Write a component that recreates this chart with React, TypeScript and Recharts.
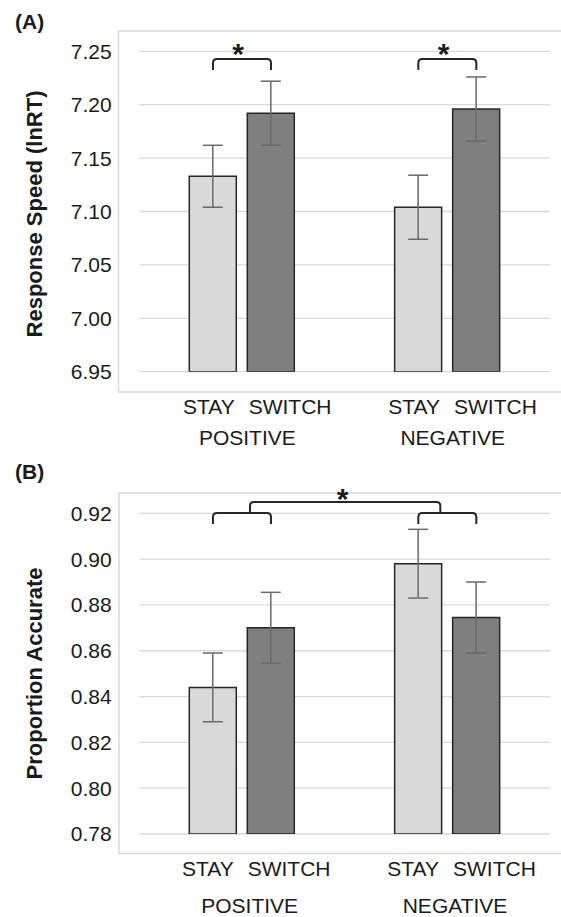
import React from 'react';
import { BarChart, Bar, XAxis, YAxis, CartesianGrid, ErrorBar } from 'recharts';

// ---------- data ----------
const categories = ['POSITIVE', 'NEGATIVE'];
const conditions = ['STAY', 'SWITCH'];

const rtStay = [7.133, 7.104];
const rtStayErr = [0.029, 0.030];
const rtSwitch = [7.192, 7.196];
const rtSwitchErr = [0.030, 0.030];
const rtTicks = [6.95, 7.0, 7.05, 7.1, 7.15, 7.2, 7.25];

const accStay = [0.844, 0.898];
const accStayErr = [0.015, 0.015];
const accSwitch = [0.870, 0.8745];
const accSwitchErr = [0.0155, 0.0155];
const accTicks = [0.78, 0.8, 0.82, 0.84, 0.86, 0.88, 0.9, 0.92];

const rtData = categories.map((c, i) => ({
  name: c,
  stay: rtStay[i],
  stayErr: rtStayErr[i],
  sw: rtSwitch[i],
  swErr: rtSwitchErr[i],
}));
const accData = categories.map((c, i) => ({
  name: c,
  stay: accStay[i],
  stayErr: accStayErr[i],
  sw: accSwitch[i],
  swErr: accSwitchErr[i],
}));

// ---------- style / layout ----------
const FONT = '"Liberation Sans", Arial, Helvetica, sans-serif';
const W = 561;
const PLOT_LEFT = 139.3;
const PLOT_RIGHT = 550;
const BAR_SIZE = 47;
const BAR_GAP = 11;
const STAY_FILL = '#d9d9d9';
const SWITCH_FILL = '#7f7f7f';
const BAR_STROKE = '#262626';
const ERR_STROKE = '#6a6a6a';
const GRID = '#d9d9d9';
const TEXT = '#1a1a1a';

const band = (PLOT_RIGHT - PLOT_LEFT) / categories.length;
const groupCenter = (i: number) => PLOT_LEFT + band * (i + 0.5);
const barCenter = (i: number, j: number) =>
  groupCenter(i) + (j === 0 ? -1 : 1) * (BAR_SIZE + BAR_GAP) / 2;

const makeTick = (stayDx: number, switchDx: number, groupDx: number, y1: number, y2: number) =>
  (props: any) => {
    const { x, y, payload } = props;
    return (
      <g>
        <text x={x + stayDx} y={y + y1} textAnchor="start" fontSize={21} fontFamily={FONT} fill={TEXT}>
          {conditions[0]}
        </text>
        <text x={x + switchDx} y={y + y1} textAnchor="start" fontSize={21} fontFamily={FONT} fill={TEXT}>
          {conditions[1]}
        </text>
        <text x={x + groupDx} y={y + y2} textAnchor="middle" fontSize={21} fontFamily={FONT} fill={TEXT}>
          {payload.value}
        </text>
      </g>
    );
  };

const bracketPath = (x1: number, x2: number, h: number, d: number, r = 4) =>
  `M ${x1} ${h + d} L ${x1} ${h + r} Q ${x1} ${h} ${x1 + r} ${h} L ${x2 - r} ${h} Q ${x2} ${h} ${x2} ${h + r} L ${x2} ${h + d}`;

type PanelProps = {
  data: any[];
  ticks: number[];
  domain: [number, number];
  height: number;
  plotTop: number;
  plotBottom: number;
  tick: (p: any) => React.ReactElement;
};

const Panel = ({ data, ticks, domain, height, plotTop, plotBottom, tick }: PanelProps) => (
  <BarChart
    width={W}
    height={height}
    data={data}
    margin={{ top: plotTop, right: W - PLOT_RIGHT, left: 0, bottom: 0 }}
    barSize={BAR_SIZE}
    barGap={BAR_GAP}
  >
    <CartesianGrid vertical={false} stroke={GRID} strokeWidth={1.3} />
    <XAxis
      dataKey="name"
      height={height - plotBottom}
      axisLine={false}
      tickLine={false}
      tickSize={0}
      tickMargin={0}
      interval={0}
      tick={tick}
    />
    <YAxis
      type="number"
      domain={domain}
      ticks={ticks}
      allowDataOverflow
      width={PLOT_LEFT}
      axisLine={false}
      tickLine={false}
      tickSize={0}
      tickMargin={27.6}
      tickFormatter={(v: number) => v.toFixed(2)}
      tick={{ fontSize: 21, fontFamily: FONT, fill: TEXT }}
    />
    <Bar dataKey="stay" fill={STAY_FILL} stroke={BAR_STROKE} strokeWidth={1.5} isAnimationActive={false}>
      <ErrorBar dataKey="stayErr" width={10} stroke={ERR_STROKE} strokeWidth={1.5} direction="y" />
    </Bar>
    <Bar dataKey="sw" fill={SWITCH_FILL} stroke={BAR_STROKE} strokeWidth={1.5} isAnimationActive={false}>
      <ErrorBar dataKey="swErr" width={10} stroke={ERR_STROKE} strokeWidth={1.5} direction="y" />
    </Bar>
  </BarChart>
);

export default function App() {
  const A_TOP = 0;
  const B_TOP = 460;
  const textStyle = { fontFamily: FONT, fill: TEXT };
  return (
    <div style={{ position: 'absolute', left: 0, top: 0, width: W, height: 917, background: '#fff' }}>
      {/* Frames (behind) */}
      <svg width={W} height={917} style={{ position: 'absolute', left: 0, top: 0 }}>
        <rect x={118.5} y={31} width={460} height={361} fill="none" stroke={GRID} strokeWidth={1.5} />
        <rect x={119} y={493} width={460} height={360.5} fill="none" stroke={GRID} strokeWidth={1.5} />
      </svg>
      <div style={{ position: 'absolute', left: 0, top: A_TOP }}>
        <Panel
          data={rtData}
          ticks={rtTicks}
          domain={[6.95, 7.25]}
          height={460}
          plotTop={51.3}
          plotBottom={371.7}
          tick={makeTick(-59, 6.7, 5.4, 42.6, 73.3)}
        />
      </div>
      <div style={{ position: 'absolute', left: 0, top: B_TOP }}>
        <Panel
          data={accData}
          ticks={accTicks}
          domain={[0.78, 0.92]}
          height={457}
          plotTop={53.3}
          plotBottom={374}
          tick={makeTick(-60, 5.7, 7.7, 41.7, 79.3)}
        />
      </div>
      {/* Annotations */}
      <svg width={W} height={917} style={{ position: 'absolute', left: 0, top: 0, pointerEvents: 'none' }}>
        <text x={15} y={29} fontSize={21} fontWeight="bold" {...textStyle}>(A)</text>
        <text x={15} y={479} fontSize={21} fontWeight="bold" {...textStyle}>(B)</text>

        <text transform="translate(42, 214) rotate(-90)" textAnchor="middle" fontSize={22} fontWeight="bold" {...textStyle}>
          Response Speed (lnRT)
        </text>
        <text transform="translate(42, 673.5) rotate(-90)" textAnchor="middle" fontSize={22} fontWeight="bold" {...textStyle}>
          Proportion Accurate
        </text>

        {/* Panel A brackets */}
        <path d={bracketPath(barCenter(0, 0), barCenter(0, 1), 59, 11)} fill="none" stroke={BAR_STROKE} strokeWidth={2} />
        <path d={bracketPath(barCenter(1, 0), barCenter(1, 1), 59, 11)} fill="none" stroke={BAR_STROKE} strokeWidth={2} />
        <text x={238} y={64} textAnchor="middle" fontSize={30} fontWeight="bold" {...textStyle}>*</text>
        <text x={443.5} y={64} textAnchor="middle" fontSize={30} fontWeight="bold" {...textStyle}>*</text>

        {/* Panel B brackets */}
        <path d={bracketPath(barCenter(0, 0), barCenter(0, 1), 513, 11)} fill="none" stroke={BAR_STROKE} strokeWidth={2} />
        <path d={bracketPath(barCenter(1, 0), barCenter(1, 1), 513, 11)} fill="none" stroke={BAR_STROKE} strokeWidth={2} />
        <path
          d={`M ${groupCenter(0) + 8} 513 L ${groupCenter(0) + 8} 506 Q ${groupCenter(0) + 8} 502 ${groupCenter(0) + 12} 502 L ${groupCenter(1) - 11} 502 Q ${groupCenter(1) - 7} 502 ${groupCenter(1) - 7} 506 L ${groupCenter(1) - 7} 513`}
          fill="none"
          stroke={BAR_STROKE}
          strokeWidth={2}
        />
        <text x={342.5} y={508.5} textAnchor="middle" fontSize={30} fontWeight="bold" {...textStyle}>*</text>
      </svg>
    </div>
  );
}
